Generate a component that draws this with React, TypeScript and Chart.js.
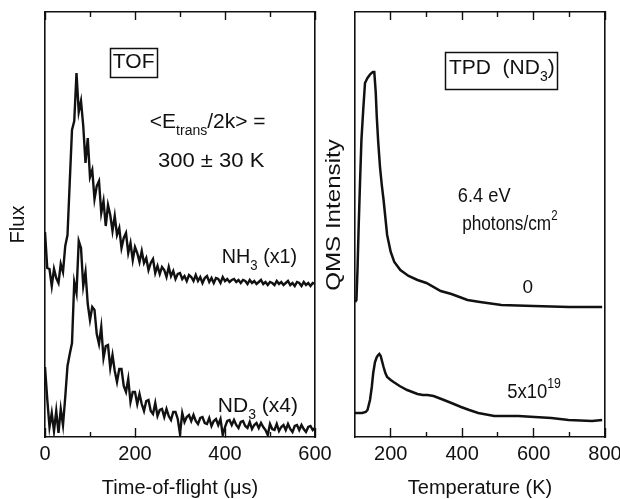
import React, { useEffect, useRef } from 'react';
import { Chart, registerables } from 'chart.js';

Chart.register(...registerables);

const FONT = "'Liberation Sans', Arial, Helvetica, sans-serif";
const INK = '#111';

// ---------- TOF panel data (time-of-flight in microseconds) ----------
const tofTime = [
  0, 5, 10, 15, 20, 25, 30, 35, 40, 45,
  50, 55, 60, 65, 70, 75, 80, 85, 90, 95,
  100, 105, 110, 115, 120, 125, 130, 135, 140, 145,
  150, 155, 160, 165, 170, 175, 180, 185, 190, 195,
  200, 205, 210, 215, 220, 225, 230, 235, 240, 245,
  250, 255, 260, 265, 270, 275, 280, 285, 290, 295,
  300, 305, 310, 315, 320, 325, 330, 335, 340, 345,
  350, 355, 360, 365, 370, 375, 380, 385, 390, 395,
  400, 405, 410, 415, 420, 425, 430, 435, 440, 445,
  450, 455, 460, 465, 470, 475, 480, 485, 490, 495,
  500, 505, 510, 515, 520, 525, 530, 535, 540, 545,
  550, 555, 560, 565, 570, 575, 580, 585, 590, 595,
  600,
];

const nh3Flux = [
  205, 169, 168, 151, 168, 159, 154, 173, 165, 191,
  202, 255, 307, 316, 364, 325, 336, 311, 274, 299,
  260, 267, 238, 251, 256, 224, 236, 211, 232, 222,
  206, 221, 202, 209, 189, 199, 204, 184, 194, 177,
  190, 184, 175, 186, 174, 179, 167, 174, 178, 164,
  171, 163, 170, 167, 160, 170, 161, 166, 158, 163,
  164, 158, 161, 156, 162, 160, 156, 162, 156, 160,
  154, 159, 161, 155, 159, 154, 159, 158, 154, 160,
  156, 158, 155, 157, 158, 155, 157, 154, 157, 156,
  153, 157, 154, 156, 153, 155, 157, 153, 155, 152,
  155, 154, 152, 156, 153, 155, 152, 154, 156, 152,
  154, 151, 155, 154, 151, 155, 152, 154, 151, 154,
  153,
];

const nd3Flux = [
  70, 38, 10, 24, 6, 26, 4, 28, 12, 40,
  71, 83, 94, 155, 144, 196, 189, 151, 165, 133,
  117, 130, 127, 103, 93, 110, 79, 91, 92, 69,
  82, 66, 55, 68, 68, 51, 45, 58, 35, 45,
  45, 33, 43, 33, 26, 36, 37, 26, 23, 34,
  21, 27, 28, 20, 28, 21, 17, 25, 25, 18,
  3, 24, 15, 20, 22, 16, 22, 16, 13, 19,
  20, 14, 13, 19, 11, 16, 18, 12, 18, 2,
  10, 16, 17, 12, 17, 12, 9, 15, 16, 11,
  9, 15, 8, 12, 14, 9, 14, 10, 7, 2,
  13, 8, 7, 13, 6, 10, 12, 7, 13, 8,
  5, 11, 12, 7, 12, 8, 5, 10, 11, 7,
  9,
];

const tofMajorTicks = [0, 200, 400, 600];
const tofMinorTicks = [100, 300, 500];

// ---------- TPD panel data (temperature in K) ----------
const tpdTempClean = [100, 104, 107, 110, 114, 118, 123, 128, 135, 143, 150, 154, 158, 161, 165, 170, 175, 180, 190, 200, 210, 227, 250, 275, 300, 340, 370, 400, 415, 450, 510, 600, 700, 792];
const tpdSignalClean = [135, 137, 167, 207, 254, 297, 327, 354, 359, 363, 365, 365, 345, 320, 295, 270, 252, 237, 202, 185, 175, 167, 161, 157, 154, 146, 143, 139, 137, 135, 132, 131, 130, 130];

const tpdTempDosed = [100, 120, 130, 135, 142, 147, 151, 156, 161, 165, 168, 172, 177, 180, 185, 190, 200, 208, 225, 246, 275, 290, 303, 320, 349, 370, 397, 420, 445, 490, 557, 603, 650, 698, 764, 792];
const tpdSignalDosed = [24, 24, 25, 27, 37, 50, 64, 75, 80, 82, 83, 81, 74, 70, 64, 60, 57, 55, 51, 47, 43, 42, 42, 41, 37, 34, 30, 27, 24, 21, 21, 20, 19, 17, 16, 17];

const tpdMajorTicks = [200, 400, 600, 800];
const tpdMinorTicks = [300, 500, 700];

// ---------- helpers ----------
type Part = { text: string; sub?: boolean; sup?: boolean };
type Note = { x: number; y: number; parts: Part[]; size: number; align?: 'left' | 'center'; sx?: number; rotate?: boolean };
type Frame = { x0: number; x1: number; y0: number; y1: number };

function drawParts(ctx: CanvasRenderingContext2D, n: Note, px: number, py: number) {
  const small = Math.round(n.size * 0.66);
  ctx.save();
  ctx.translate(px, py);
  if (n.rotate) ctx.rotate(-Math.PI / 2);
  ctx.scale(n.sx ?? 1, 1);
  ctx.textBaseline = 'alphabetic';
  ctx.textAlign = 'left';
  const widths = n.parts.map((p) => {
    ctx.font = `${p.sub || p.sup ? small : n.size}px ${FONT}`;
    return ctx.measureText(p.text).width;
  });
  const total = widths.reduce((a, b) => a + b, 0);
  let cx = n.align === 'center' ? -total / 2 : 0;
  n.parts.forEach((p, i) => {
    ctx.font = `${p.sub || p.sup ? small : n.size}px ${FONT}`;
    const dy = p.sub ? n.size * 0.33 : p.sup ? -n.size * 0.47 : 0;
    ctx.fillText(p.text, cx, dy);
    cx += widths[i];
  });
  ctx.restore();
}

function notesPlugin(id: string, notes: Note[], frames: Frame[]) {
  return {
    id,
    afterDraw(chart: any) {
      const ctx = chart.ctx as CanvasRenderingContext2D;
      const xs = chart.scales.x;
      const ys = chart.scales.y;
      ctx.save();
      ctx.fillStyle = INK;
      ctx.strokeStyle = INK;
      ctx.lineWidth = 1.5;
      frames.forEach((f) => {
        const x0 = xs.getPixelForValue(f.x0);
        const x1 = xs.getPixelForValue(f.x1);
        const y0 = ys.getPixelForValue(f.y0);
        const y1 = ys.getPixelForValue(f.y1);
        ctx.strokeRect(Math.round(x0) + 0.5, Math.round(y0) + 0.5, Math.round(x1 - x0), Math.round(y1 - y0));
      });
      notes.forEach((n) => drawParts(ctx, n, xs.getPixelForValue(n.x), ys.getPixelForValue(n.y)));
      ctx.restore();
    },
  };
}

function frameAxes(min: number, max: number, major: number[], minor: number[], xTitle: string, yTitle: string | null) {
  const tickGrid = (len: number) => ({
    display: true,
    drawOnChartArea: false,
    drawTicks: true,
    tickLength: -len,
    tickWidth: 1.4,
    tickColor: INK,
  });
  const setTicks = (vals: number[]) => (s: any) => {
    s.ticks = vals.map((v) => ({ value: v }));
  };
  const border = { display: true, color: INK, width: 1.6 };
  return {
    xMinor: {
      type: 'linear', position: 'bottom', weight: -1, min, max,
      afterBuildTicks: setTicks(minor),
      ticks: { display: false },
      grid: tickGrid(5),
      border: { display: false },
      afterFit: (s: any) => { s.height = 0; },
    },
    x: {
      type: 'linear', position: 'bottom', weight: 0, min, max,
      afterBuildTicks: setTicks(major),
      ticks: {
        display: true, autoSkip: false, maxRotation: 0, minRotation: 0, padding: 14,
        color: INK, font: { family: FONT, size: 20 },
      },
      grid: tickGrid(9),
      border,
      title: {
        display: true, text: xTitle, color: INK,
        font: { family: FONT, size: 20, lineHeight: 1.1 },
        padding: { top: 0, bottom: 0 },
      },
      afterFit: (s: any) => { s.height = 62; },
    },
    xTop: {
      type: 'linear', position: 'top', weight: 0, min, max,
      afterBuildTicks: setTicks(major),
      ticks: { display: false },
      grid: tickGrid(8),
      border,
      afterFit: (s: any) => { s.height = 0; },
    },
    xTopMinor: {
      type: 'linear', position: 'top', weight: -1, min, max,
      afterBuildTicks: setTicks(minor),
      ticks: { display: false },
      grid: tickGrid(5),
      border: { display: false },
      afterFit: (s: any) => { s.height = 0; },
    },
    y: {
      type: 'linear', position: 'left', min: 0, max: 425,
      ticks: { display: false },
      grid: { display: false },
      border,
      title: yTitle
        ? {
            display: true, text: yTitle, color: INK,
            font: { family: FONT, size: 20, lineHeight: 1.2 },
            padding: { top: 6, bottom: 0 },
          }
        : { display: false },
      afterFit: (s: any) => { s.width = 45; },
    },
    yRight: {
      type: 'linear', position: 'right', min: 0, max: 425,
      ticks: { display: false },
      grid: { display: false },
      border,
      afterFit: (s: any) => { s.width = 0; },
    },
  };
}

const tofNotes: Note[] = [
  { x: 197, y: 369, parts: [{ text: 'TOF' }], size: 21, align: 'center' },
  { x: 233, y: 309, parts: [{ text: '<E' }, { text: 'trans', sub: true }, { text: '/2k> =' }], size: 21 },
  { x: 251, y: 270, parts: [{ text: '300 ± 30 K' }], size: 21, sx: 1.05 },
  { x: 393, y: 174, parts: [{ text: 'NH' }, { text: '3', sub: true }, { text: ' (x1)' }], size: 21, sx: 0.94 },
  { x: 384, y: 25, parts: [{ text: 'ND' }, { text: '3', sub: true }, { text: ' (x4)' }], size: 21 },
];
const tofFrames: Frame[] = [{ x0: 144, x1: 249, y0: 389, y1: 360 }];

const tpdNotes: Note[] = [
  { x: 363, y: 363, parts: [{ text: 'TPD  (ND' }, { text: '3', sub: true }, { text: ')' }], size: 21 },
  { x: 388, y: 235, parts: [{ text: '6.4 eV' }], size: 21, sx: 0.87 },
  { x: 400, y: 207, parts: [{ text: 'photons/cm' }, { text: '2', sup: true }], size: 21, sx: 0.82 },
  { x: 584, y: 144, parts: [{ text: '0' }], size: 19, align: 'center' },
  { x: 526, y: 39, parts: [{ text: '5x10' }, { text: '19', sup: true }], size: 21, sx: 0.88 },
  { x: 58, y: 222, parts: [{ text: 'QMS Intensity' }], size: 21, align: 'center', sx: 1.15, rotate: true },
];
const tpdFrames: Frame[] = [{ x0: 352, x1: 666, y0: 385, y1: 348 }];

function lineSet(label: string, xs: number[], ys: number[], width: number) {
  return {
    label,
    data: xs.map((x, i) => ({ x, y: ys[i] })),
    borderColor: INK,
    backgroundColor: INK,
    borderWidth: width,
    borderJoinStyle: 'miter' as const,
    pointRadius: 0,
    tension: 0,
    fill: false,
    xAxisID: 'x',
    yAxisID: 'y',
  };
}

export default function App() {
  const leftRef = useRef<HTMLCanvasElement>(null);
  const rightRef = useRef<HTMLCanvasElement>(null);

  useEffect(() => {
    Chart.defaults.font.family = FONT;
    const common = {
      responsive: false,
      animation: false,
      devicePixelRatio: 1,
      events: [] as any[],
      plugins: { legend: { display: false }, tooltip: { enabled: false } },
    };
    const c1 = new Chart(leftRef.current as HTMLCanvasElement, {
      type: 'line',
      data: {
        datasets: [
          lineSet('NH3 (x1)', tofTime, nh3Flux, 2.4),
          lineSet('ND3 (x4)', tofTime, nd3Flux, 2.4),
        ],
      },
      options: {
        ...common,
        layout: { padding: { left: 0, right: 305, top: 12, bottom: 0 } },
        scales: frameAxes(0, 600, tofMajorTicks, tofMinorTicks, 'Time-of-flight (μs)', 'Flux') as any,
      } as any,
      plugins: [notesPlugin('tofNotes', tofNotes, tofFrames)],
    });
    const c2 = new Chart(rightRef.current as HTMLCanvasElement, {
      type: 'line',
      data: {
        datasets: [
          lineSet('0', tpdTempClean, tpdSignalClean, 2.5),
          lineSet('5x10^19', tpdTempDosed, tpdSignalDosed, 2.5),
        ],
      },
      options: {
        ...common,
        layout: { padding: { left: 310, right: 75, top: 12, bottom: 0 } },
        scales: frameAxes(100, 800, tpdMajorTicks, tpdMinorTicks, 'Temperature (K)', null) as any,
      } as any,
      plugins: [notesPlugin('tpdNotes', tpdNotes, tpdFrames)],
    });
    return () => {
      c1.destroy();
      c2.destroy();
    };
  }, []);

  return (
    <div style={{ position: 'fixed', left: 0, top: 0, width: 620, height: 499, overflow: 'hidden', background: '#fff' }}>
      <canvas ref={leftRef} width={620} height={499} style={{ position: 'absolute', left: 0, top: 0, width: 620, height: 499 }} />
      <canvas ref={rightRef} width={680} height={499} style={{ position: 'absolute', left: 0, top: 0, width: 680, height: 499 }} />
    </div>
  );
}
